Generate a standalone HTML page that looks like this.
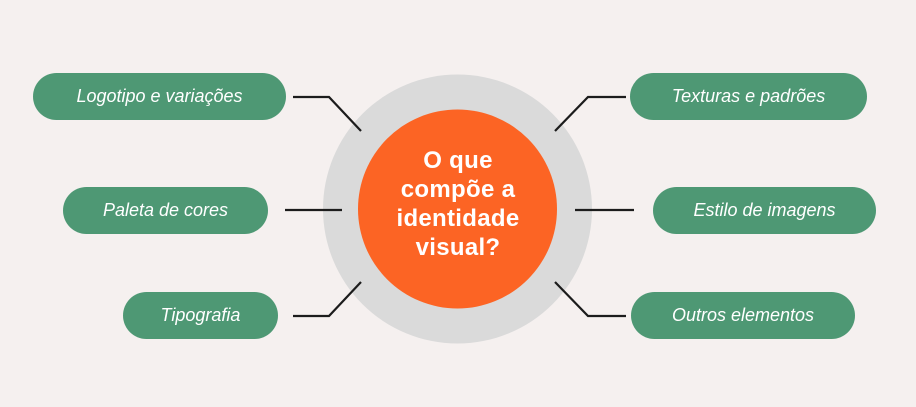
<!DOCTYPE html>
<html><head><style>
body{margin:0;width:916px;height:407px;background:#f5f0ef;position:relative;overflow:hidden;font-family:"Liberation Sans",sans-serif}
.p{position:absolute;height:47px;border-radius:24px;background:#4e9874;color:#fff;font-style:italic;font-size:18px;display:flex;align-items:center;justify-content:center}
svg{position:absolute;left:0;top:0}
.t{position:absolute;left:358px;width:200px;top:146px;text-align:center;color:#fff;font-size:24px;font-weight:bold;line-height:29px;letter-spacing:0.3px}
</style></head><body>
<svg width="916" height="407">
<circle cx="457.5" cy="209" r="134.5" fill="#dadada"/>
<circle cx="457.5" cy="209" r="99.5" fill="#fc6424"/>
<g stroke="#1c1c1c" stroke-width="2.2" fill="none">
<polyline points="293,97 329,97 361,131"/>
<line x1="285" y1="210" x2="342" y2="210"/>
<polyline points="293,316 329,316 361,282"/>
<polyline points="626,97 588,97 555,131"/>
<line x1="575" y1="210" x2="634" y2="210"/>
<polyline points="626,316 588,316 555,282"/>
</g>
</svg>
<div class="t">O que<br>compõe a<br>identidade<br>visual?</div>
<div class="p" style="left:33px;top:73px;width:253px">Logotipo e variações</div>
<div class="p" style="left:63px;top:187px;width:205px">Paleta de cores</div>
<div class="p" style="left:123px;top:292px;width:155px">Tipografia</div>
<div class="p" style="left:630px;top:73px;width:237px">Texturas e padrões</div>
<div class="p" style="left:653px;top:187px;width:223px">Estilo de imagens</div>
<div class="p" style="left:631px;top:292px;width:224px">Outros elementos</div>
</body></html>
